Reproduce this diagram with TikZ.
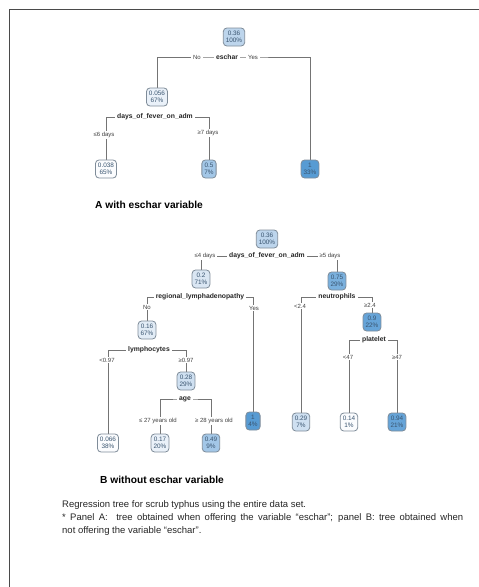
\documentclass[tikz,border=0pt]{standalone}
\usepackage{fontspec}
\setmainfont{Liberation Sans}
\usetikzlibrary{backgrounds}
\definecolor{nodeborder}{HTML}{7F8C99}
\definecolor{nodetext}{HTML}{3A5570}
\definecolor{linegray}{HTML}{747474}
\definecolor{framegray}{HTML}{4A4A4A}
\definecolor{fw}{HTML}{FBFCFE}
\definecolor{fa}{HTML}{EAF1F9}
\definecolor{fb}{HTML}{E2ECF6}
\definecolor{fc}{HTML}{DAE6F3}
\definecolor{fd}{HTML}{CFE0F1}
\definecolor{fe}{HTML}{BDD5EC}
\definecolor{ff}{HTML}{A3C7E7}
\definecolor{fg}{HTML}{7AB0DD}
\definecolor{fh}{HTML}{66A4D8}
\definecolor{fi}{HTML}{579BD3}
\begin{document}
\begin{tikzpicture}[x=1pt,y=-1pt,
  tnode/.style={draw=nodeborder, rounded corners=3.5pt, line width=0.8pt, inner xsep=2.5pt, inner ysep=1.5pt,
    align=center, font=\fontsize{6.4}{6.8}\selectfont, text=nodetext, minimum height=18pt},
  splitlab/.style={fill=white, inner xsep=2pt, inner ysep=1pt, font=\fontsize{6.8}{7}\selectfont\bfseries, text=black!85},
  elab/.style={fill=white, inner xsep=1.5pt, inner ysep=1pt, font=\fontsize{6}{6.5}\selectfont, text=black!75},
  conn/.style={draw=linegray, line width=0.9pt},
  titletext/.style={anchor=west, inner sep=0pt, font=\fontsize{10.2}{11}\selectfont\bfseries},
  captext/.style={anchor=west, inner sep=0pt, font=\fontsize{9.5}{10}\selectfont, text=black!85}]
\useasboundingbox (0,0) rectangle (479,587);
\draw[framegray, line width=1pt] (479,9) -- (9,9) -- (9,587);

% ---------- Tree A ----------
\node[tnode, fill=fe] (a0) at (234,37) {0.36\\100\%};
\node[tnode, fill=fa] (a1) at (157,97) {0.056\\67\%};
\node[tnode, fill=fi] (a2) at (310,169) {1\\33\%};
\node[tnode, fill=fw] (a3) at (106,169) {0.038\\65\%};
\node[tnode, fill=ff] (a4) at (209,169) {0.5\\7\%};

\node[splitlab] (sa0) at (227,57) {eschar};
\node[elab, inner xsep=2.5pt] (la0n) at (197,57) {No};
\node[elab, inner xsep=2.5pt] (la0y) at (253,57) {Yes};
\node[splitlab] (sa1) at (155,117) {days\_of\_fever\_on\_adm};
\node[elab] (la1n) at (104,135) {≤6 days};
\node[elab] (la1y) at (208,133) {≥7 days};

\node[titletext] (ta) at (95,205) {A with eschar variable};

% ---------- Tree B ----------
\node[tnode, fill=fe] (b0) at (267,239) {0.36\\100\%};
\node[tnode, fill=fc] (b1) at (201,279) {0.2\\71\%};
\node[tnode, fill=fg] (b2) at (337,281) {0.75\\29\%};
\node[tnode, fill=fb] (b3) at (147,330) {0.16\\67\%};
\node[tnode, fill=fi] (b4) at (253,421) {1\\4\%};
\node[tnode, fill=fw] (b5) at (108,443) {0.066\\38\%};
\node[tnode, fill=fd] (b6) at (186,381) {0.28\\29\%};
\node[tnode, fill=fa] (b7) at (160,443) {0.17\\20\%};
\node[tnode, fill=ff] (b8) at (211,443) {0.49\\9\%};
\node[tnode, fill=fd] (b9) at (301,422) {0.29\\7\%};
\node[tnode, fill=fh] (b10) at (372,322) {0.9\\22\%};
\node[tnode, fill=fw] (b11) at (349,422) {0.14\\1\%};
\node[tnode, fill=fh] (b12) at (397,422) {0.94\\21\%};

\node[splitlab] (sb0) at (267,256) {days\_of\_fever\_on\_adm};
\node[elab] (lb0n) at (205,256) {≤4 days};
\node[elab] (lb0y) at (330,256) {≥5 days};
\node[splitlab] (sb1) at (200,297) {regional\_lymphadenopathy};
\node[elab] (lb1n) at (147,307) {No};
\node[elab] (lb1y) at (254,308) {Yes};
\node[splitlab] (sb3) at (149,350) {lymphocytes};
\node[elab] (lb3n) at (107,360) {<0.97};
\node[elab] (lb3y) at (186,360) {≥0.97};
\node[splitlab] (sb6) at (185,399) {age};
\node[elab] (lb6n) at (158,421) {≤ 27 years old};
\node[elab] (lb6y) at (214,421) {≥ 28 years old};
\node[splitlab] (sb2) at (337,297) {neutrophils};
\node[elab] (lb2n) at (300,306) {<2.4};
\node[elab] (lb2y) at (370,305) {≥2.4};
\node[splitlab] (sb10) at (374,340) {platelet};
\node[elab] (lb10n) at (348,357) {<47};
\node[elab] (lb10y) at (397,357) {≥47};

\node[titletext] (tb) at (100,480) {B without eschar variable};

\node[captext] (c1) at (62,505) {Regression tree for scrub typhus using the entire data set.};
\node[captext] (c2) at (62,518) {\makebox[401pt][s]{* Panel A:\ \ tree obtained when offering the variable “eschar”; panel B: tree obtained when}};
\node[captext] (c3) at (62,531) {not offering the variable “eschar”.};

% ---------- connectors ----------
\begin{scope}[on background layer]
\draw[conn] (a1.north) |- (sa0.center) -| (a2.north);
\draw[conn] (a3.north) |- (sa1.center) -| (a4.north);
\draw[conn] (b1.north) |- (sb0.center) -| (b2.north);
\draw[conn] (b3.north) |- (sb1.center) -| (b4.north);
\draw[conn] (b5.north) |- (sb3.center) -| (b6.north);
\draw[conn] (b7.north) |- (sb6.center) -| (b8.north);
\draw[conn] (b9.north) |- (sb2.center) -| (b10.north);
\draw[conn] (b11.north) |- (sb10.center) -| (b12.north);
\end{scope}
\end{tikzpicture}
\end{document}
